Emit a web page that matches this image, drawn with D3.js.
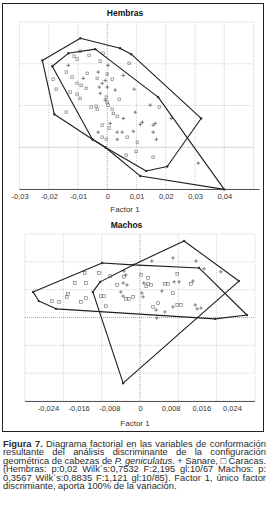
<!DOCTYPE html>
<html>
<head>
<meta charset="utf-8">
<script src="https://cdn.jsdelivr.net/npm/d3@7/dist/d3.min.js"></script>
<style>
body { margin: 0; background: #fff; }
text { font-family: "Liberation Sans", Arial, sans-serif; }
</style>
</head>
<body>
<svg id="fig" width="270" height="514"></svg>
<script>
// ---- Hembras (top panel) ----
var hTicks = [-0.03, -0.02, -0.01, 0, 0.01, 0.02, 0.03, 0.04];
var hGridX = [-0.03, -0.02, -0.01, 0, 0.01, 0.02, 0.03, 0.04, 0.05];
var hGridY = [-1, 0, 1, 2, 3];

var hHullA = [[-0.0222, 2.08], [-0.0092, 2.61], [0.0044, 2.37], [0.0082, 2.23], [0.0321, 0.69],
  [0.0205, -0.46], [0.0133, -0.57], [-0.0007, 0], [-0.0051, 0.19], [-0.0181, 0.79]];
var hHullB = [[-0.0188, 1.94], [-0.0133, 2.25], [-0.0041, 2.35], [0.0174, 1.20], [0.0400, -1.01],
  [0.0113, -0.69], [-0.0007, 0], [-0.0051, 0.19]];

var hCaracas = [[-0.0092, 2.30], [-0.0062, 2.20], [-0.0113, 2.18], [-0.0103, 2.11], [-0.0024, 2.06],
  [-0.0014, 2.25], [0.0075, 2.01], [-0.0140, 1.80], [-0.0068, 1.77], [-0.0120, 1.68],
  [0.0000, 1.75], [-0.0034, 1.65], [0.0017, 1.63], [-0.0185, 1.63], [-0.0103, 1.53],
  [-0.0089, 1.48], [-0.0072, 1.41], [-0.0174, 1.39], [-0.0127, 1.32], [-0.0103, 1.27],
  [-0.0092, 1.17], [-0.0003, 1.20], [0.0041, 1.15], [0.0000, 1.08], [-0.0055, 0.96],
  [-0.0038, 0.98], [-0.0034, 0.91], [0.0003, 1.01], [0.0178, 0.96], [-0.0140, 0.84],
  [0.0017, 0.91], [0.0021, 0.81], [0.0034, 0.74], [-0.0017, 0.53], [0.0007, 0.46],
  [-0.0017, 0.24], [-0.0003, 0.19], [0.0068, 0.24], [0.0103, 0.12], [0.0099, -0.10],
  [0.0065, -0.19], [0.0157, -0.24]];
var hSanare = [[-0.0133, 1.96], [0.0003, 1.96], [-0.0031, 1.80], [-0.0082, 1.65], [-0.0007, 1.60],
  [0.0055, 1.72], [-0.0017, 1.53], [-0.0027, 1.44], [0.0000, 1.44], [0.0027, 1.37],
  [0.0092, 1.39], [-0.0024, 1.29], [-0.0007, 1.13], [0.0147, 1.01], [0.0096, 0.84],
  [0.0055, 0.69], [0.0219, 0.69], [0.0120, 0.60], [0.0113, 0.55], [0.0157, 0.53],
  [0.0164, 0.57], [0.0157, 0.36], [0.0010, 0.57], [0.0089, 0.38], [0.0034, 0.36],
  [0.0051, 0.36], [-0.0031, 0.36], [0.0034, 0.19], [0.0168, 0.19], [0.0311, -0.38]];

// ---- Machos (bottom panel) ----
var mTicks = [-0.024, -0.016, -0.008, 0, 0.008, 0.016, 0.024];
var mGridX = [-0.03, -0.02, -0.01, 0, 0.01, 0.02, 0.03];
var mGridY = [-3, -2, -1, 0, 1, 2, 3];

var mHullA = [[-0.0279, 0.92], [-0.0099, 1.96], [-0.0018, 1.89], [0.0154, 1.78], [0.0279, 0.09],
  [0.0196, -0.05], [-0.0219, 0.31], [-0.0264, 0.59]];
var mHullB = [[0.0115, 2.75], [0.0258, 1.31], [-0.0044, -2.36], [-0.0123, 0.92], [-0.0104, 1.28],
  [-0.0018, 1.89]];

var mCaracas = [[-0.0144, 1.60], [-0.0107, 1.60], [-0.0170, 1.24], [-0.0141, 1.24], [-0.0078, 1.49],
  [-0.0042, 1.46], [-0.0060, 1.17], [0.0003, 1.53], [0.0021, 1.42], [0.0021, 1.21],
  [0.0029, 1.17], [0.0016, 1.13], [0.0065, 1.21], [0.0073, 1.21], [0.0097, 1.57],
  [0.0133, 1.21], [-0.0188, 0.85], [-0.0191, 0.74], [-0.0230, 0.59], [-0.0211, 0.56],
  [-0.0154, 0.56], [-0.0141, 0.70], [-0.0102, 0.77], [-0.0094, 0.77], [-0.0089, 0.41],
  [-0.0037, 0.67], [-0.0029, 0.67], [-0.0018, 0.74], [0.0034, 0.38], [0.0047, 0.52],
  [0.0097, 0.45], [0.0107, 0.45], [0.0086, 0.88]];
var mSanare = [[-0.0042, 1.67], [-0.0037, 1.53], [-0.0044, 1.24], [-0.0034, 1.17], [0.0010, 1.24],
  [0.0057, 0.95], [0.0089, 1.28], [0.0102, 1.28], [0.0138, 1.31], [0.0146, 2.03],
  [0.0167, 1.75], [0.0211, 1.64], [0.0031, 2.03], [0.0086, 2.14], [-0.0050, 0.92],
  [-0.0044, 0.77], [0.0005, 0.88], [0.0008, 0.74], [0.0042, 0.27], [0.0065, 0.20],
  [0.0086, 0.38], [0.0144, 0.45], [0.0149, 0.31], [0.0159, 0.34], [0.0044, -0.02]];

// ---- caption ----
var captionLines = [
  "*Figura* *7.* Diagrama factorial en las variables de conformación",
  "resultante del análisis discriminante de la configuración",
  "geométrica de cabezas de _P._ _geniculatus_. + Sanare, \u25A1 Caracas.",
  "(Hembras: p:0,02 Wilk´s:0,7532 F:2,195 gl:10/67 Machos: p:",
  "0,3567 Wilk´s:0,8835 F:1,121 gl:10/85). Factor 1, único factor",
  "discrimiante, aporta 100% de la variación."
];

var svg = d3.select("#fig");

// figure frame
svg.append("rect")
  .attr("x", 2.5).attr("y", 3.5)
  .attr("width", 261).attr("height", 428)
  .attr("fill", "none").attr("stroke", "#222").attr("stroke-width", 1);

function fmt(d) { return String(d).replace(".", ","); }

function drawPanel(o) {
  var g = svg.append("g");
  var y0 = o.y.range()[0], y1 = o.y.range()[1];
  var x0 = o.x.range()[0], x1 = o.x.range()[1];

  g.selectAll(".gx").data(o.gridX).enter().append("line")
    .attr("x1", function(d) { return o.x(d); })
    .attr("x2", function(d) { return o.x(d); })
    .attr("y1", y0).attr("y2", y1)
    .attr("stroke", function(d) { return d === 0 ? "#a8a8a8" : "#d2d2d2"; })
    .attr("stroke-dasharray", "1,1");

  g.selectAll(".gy").data(o.gridY).enter().append("line")
    .attr("x1", x0).attr("x2", x1)
    .attr("y1", function(d) { return o.y(d); })
    .attr("y2", function(d) { return o.y(d); })
    .attr("stroke", function(d) { return d === 0 ? "#a8a8a8" : "#d2d2d2"; })
    .attr("stroke-dasharray", "1,1");

  // x axis
  var ax = g.append("g")
    .attr("transform", "translate(0," + y0 + ")")
    .call(d3.axisBottom(o.x).tickValues(o.ticks).tickSize(0).tickPadding(5).tickFormat(fmt));
  ax.select(".domain").remove();
  ax.selectAll("text")
    .attr("font-family", "Liberation Sans, Arial, sans-serif")
    .attr("font-size", 7.5).attr("fill", "#333");
  g.append("line")
    .attr("x1", x0).attr("x2", x1 + o.axisExtra)
    .attr("y1", y0 + 0.5).attr("y2", y0 + 0.5)
    .attr("stroke", "#555").attr("stroke-width", 1);

  var line = d3.line()
    .x(function(p) { return o.x(p[0]); })
    .y(function(p) { return o.y(p[1]); })
    .curve(d3.curveLinearClosed);

  // squares (Caracas)
  g.selectAll(".sq").data(o.squares).enter().append("rect")
    .attr("x", function(d) { return o.x(d[0]) - 1.3; })
    .attr("y", function(d) { return o.y(d[1]) - 1.3; })
    .attr("width", 2.6).attr("height", 2.6)
    .attr("fill", "none").attr("stroke", "#6a6a6a").attr("stroke-width", 0.6);

  // pluses (Sanare)
  g.selectAll(".pl").data(o.pluses).enter().append("path")
    .attr("transform", function(d) { return "translate(" + o.x(d[0]) + "," + o.y(d[1]) + ")"; })
    .attr("d", "M-1.8,0H1.8M0,-1.8V1.8")
    .attr("stroke", "#555").attr("stroke-width", 0.7);

  // hulls
  g.selectAll(".hull").data(o.hulls).enter().append("path")
    .attr("d", line)
    .attr("fill", "none").attr("stroke", "#1e1e1e").attr("stroke-width", 1.1)
    .attr("stroke-linejoin", "round");

  o.hulls.forEach(function(h) {
    g.selectAll(null).data(h).enter().append("circle")
      .attr("cx", function(d) { return o.x(d[0]); })
      .attr("cy", function(d) { return o.y(d[1]); })
      .attr("r", 1.2).attr("fill", "#333");
  });

  g.append("text")
    .attr("x", o.titleX).attr("y", o.titleY)
    .attr("text-anchor", "middle")
    .attr("font-weight", "bold").attr("font-size", 8.5).attr("fill", "#111")
    .text(o.title);

  g.append("text")
    .attr("x", o.labelX).attr("y", o.labelY)
    .attr("text-anchor", "middle")
    .attr("font-size", 8).attr("fill", "#333")
    .text("Factor 1");
}

drawPanel({
  x: d3.scaleLinear().domain([-0.03, 0.05]).range([19.5, 253.5]),
  y: d3.scaleLinear().domain([-1, 3]).range([189, 22]),
  gridX: hGridX, gridY: hGridY, ticks: hTicks,
  hulls: [hHullA, hHullB], squares: hCaracas, pluses: hSanare,
  axisExtra: 6,
  title: "Hembras", titleX: 125, titleY: 15.5,
  labelX: 125, labelY: 212
});

drawPanel({
  x: d3.scaleLinear().domain([-0.03, 0.03]).range([25, 255]),
  y: d3.scaleLinear().domain([-3, 3]).range([401, 234]),
  gridX: mGridX, gridY: mGridY, ticks: mTicks,
  hulls: [mHullA, mHullB], squares: mCaracas, pluses: mSanare,
  axisExtra: 0,
  title: "Machos", titleX: 126.5, titleY: 228,
  labelX: 135, labelY: 426
});

// caption, justified like the journal text; the scan is a little wider than tall
var capLeft = 3, capRight = 266, capTop = 447, capStep = 8.4, capSize = 9, capSx = 1.04;
captionLines.forEach(function(ln, i) {
  var words = ln.split(" ").map(function(w) {
    if (w.charAt(0) === "*") return { t: w.replace(/\*/g, ""), b: true };
    if (w.charAt(0) === "_") {
      var m = w.match(/^_(.*)_(.*)$/);
      return { t: m[1], it: true, rest: m[2] };
    }
    return { t: w };
  });
  var row = svg.append("g")
    .attr("transform", "translate(" + capLeft + "," + (capTop + i * capStep) + ") scale(" + capSx + ",1)");
  var nodes = words.map(function(w) {
    var t = row.append("text")
      .attr("font-size", capSize).attr("fill", "#2a2a2a");
    t.append("tspan")
      .attr("font-weight", w.b ? "bold" : null)
      .attr("font-style", w.it ? "italic" : null)
      .text(w.t);
    if (w.rest) t.append("tspan").text(w.rest);
    return t;
  });
  var widths = nodes.map(function(t) { return t.node().getComputedTextLength(); });
  var total = d3.sum(widths);
  var avail = (capRight - capLeft) / capSx;
  var last = i === captionLines.length - 1;
  var gap = last ? capSize * 0.278 : (avail - total) / (nodes.length - 1);
  var x = 0;
  nodes.forEach(function(t, k) {
    t.attr("x", x);
    x += widths[k] + gap;
  });
});
</script>
</body>
</html>
